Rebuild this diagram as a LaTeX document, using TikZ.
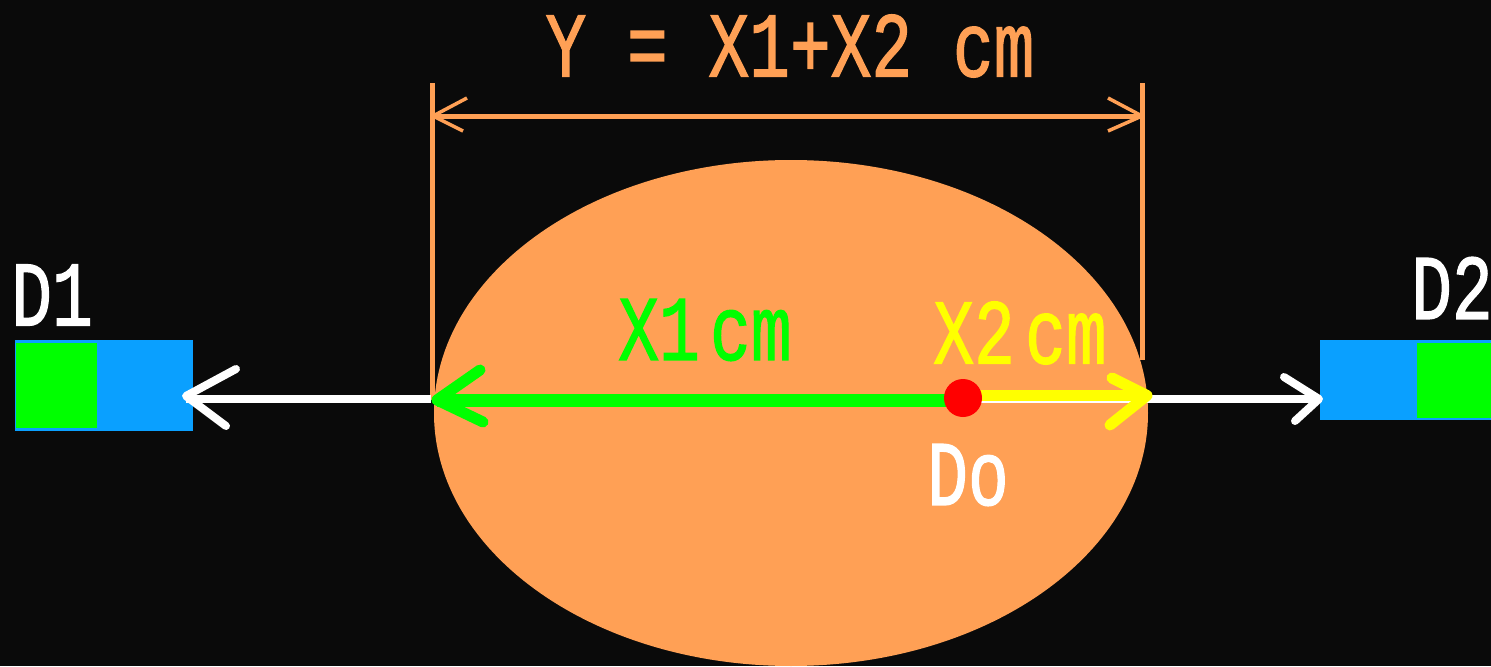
\documentclass[tikz,border=0pt]{standalone}
\usepackage{fontspec}
\setmainfont[FakeBold=1.6]{Liberation Mono}
\definecolor{bgblack}{RGB}{10,10,10}
\definecolor{bodyorange}{RGB}{255,160,85}
\definecolor{boxblue}{RGB}{10,160,255}
\definecolor{boxgreen}{RGB}{0,255,0}
\definecolor{markyellow}{RGB}{255,255,0}
\tikzset{
	dimline/.style={bodyorange, line width=0.05cm},
	dimhead/.style={bodyorange, line width=0.035cm, line join=round},
	whiteline/.style={white, line width=0.08cm},
	openhead/.style={line cap=round, line join=round},
	lab/.style={inner sep=0pt, transform shape, xscale=0.92, yscale=1.25, font=\fontsize{21}{21}\selectfont}
}
\begin{document}
\begin{tikzpicture}

		% Background
		\fill[bgblack] (0,0) rectangle (14.91,6.66);
		\useasboundingbox (0,0) rectangle (14.91,6.66);

		% Body
		\fill[bodyorange] (7.91,2.53) ellipse (3.57 and 2.53);

		% Dimension line
		\coordinate (dimL) at (4.33,5.5);
		\coordinate (dimR) at (11.42,5.5);
		\coordinate (dimLtop) at (4.32,5.83);
		\coordinate (dimRtop) at (11.425,5.83);
		\coordinate (dimLbot) at (4.32,2.66);
		\coordinate (dimRbot) at (11.425,3.06);
		\draw[dimline] (dimLtop) -- (dimLbot);
		\draw[dimline] (dimRtop) -- (dimRbot);
		\draw[dimline] (dimL) -- (dimR);
		\draw[dimhead] (4.67,5.68) -- (dimL) -- (4.63,5.35);
		\draw[dimhead] (11.08,5.68) -- (dimR) -- (11.08,5.35);
		\node[lab, bodyorange] (ylab) at (7.9,6.2) {Y = X1+X2 cm};

		% Detectors
		\fill[boxblue] (0.15,2.35) rectangle (1.93,3.26);
		\fill[boxgreen] (0.16,2.38) rectangle (0.97,3.23);
		\fill[boxblue] (13.2,2.46) rectangle (14.91,3.26);
		\fill[boxgreen] (14.17,2.48) rectangle (14.91,3.23);
		\coordinate (boxL) at (1.86,2.7);
		\coordinate (boxR) at (13.19,2.67);
		\node[lab, white] (d1) at (0.52,3.71) {D1};
		\node[lab, white] (d2) at (14.52,3.78) {D2};

		% White rays
		\coordinate (bodyL) at (4.31,2.67);
		\coordinate (bodyR) at (11.5,2.67);
		\draw[whiteline] (bodyL) -- (boxL |- bodyL);
		\draw[whiteline] (bodyR) -- (boxR);
		\draw[whiteline, openhead] (2.36,2.97) -- (boxL) -- (2.26,2.4);
		\draw[whiteline, openhead] (12.84,2.89) -- (boxR) -- (12.95,2.45);

		% Source point and its arrows
		\coordinate (srcO) at (9.63,2.68);
		\coordinate (greenTip) at (4.37,2.66);
		\coordinate (yellowStart) at (9.63,2.705);
		\coordinate (yellowTip) at (11.47,2.705);
		\draw[whiteline] (srcO |- bodyR) -- (bodyR);
		\draw[boxgreen, line width=0.13cm] (srcO |- greenTip) -- (greenTip);
		\draw[boxgreen, line width=0.11cm, openhead] (4.8,2.96) -- (greenTip) -- (4.83,2.44);
		\draw[markyellow, line width=0.11cm] (yellowStart) -- (yellowTip);
		\draw[markyellow, line width=0.11cm, openhead] (11.12,2.88) -- (yellowTip) -- (11.1,2.41);
		\fill[red] (srcO) circle (0.19);

		% Labels
		\node[lab, boxgreen] (x1) at (7.05,3.36) {X1\hspace{-0.33cm} cm};
		\node[lab, markyellow] (x2) at (10.2,3.33) {X2\hspace{-0.33cm} cm};
		\node[lab, white] (do) at (9.68,1.91) {Do};
	\end{tikzpicture}
\end{document}
